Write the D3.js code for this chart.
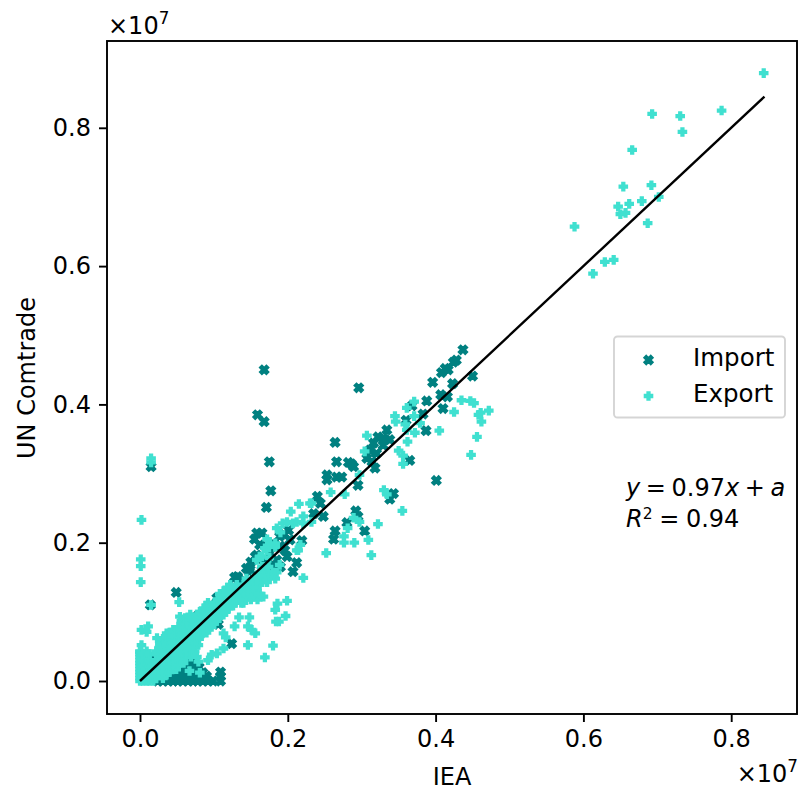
<!DOCTYPE html>
<html><head><meta charset="utf-8">
<script src="https://cdnjs.cloudflare.com/ajax/libs/d3/7.8.5/d3.min.js"></script>
<style>html,body{margin:0;padding:0;background:#fff}svg{display:block}text{font-family:"DejaVu Sans";fill:#000}</style>
</head><body><svg id="c" width="799" height="790"></svg>
<script>
// values in units of 1e7
const importOutliers = [[.168,.450],[.296,.424],[.159,.385],[.168,.375],[.437,.479],[.428,.464],[.424,.461],[.413,.452],[.408,.446],[.417,.450],[.396,.432],[.423,.430],[.450,.441],[.407,.414],[.416,.411],[.410,.394],[.388,.405],[.368,.398],[.383,.386],[.360,.377],[.387,.362],[.401,.290],[.365,.319],[.264,.345],[.175,.317],[.266,.317],[.286,.314],[.282,.316],[.289,.310],[.253,.298],[.253,.291],[.266,.295],[.273,.295],[.177,.275],[.171,.251]];
const importCluster = [[.329,.351],[.334,.363],[.322,.353],[.338,.349],[.316,.344],[.329,.341],[.311,.334],[.320,.329],[.307,.322],[.314,.317],[.318,.308],[.295,.283],[.343,.271],[.338,.263],[.240,.267],[.244,.257],[.235,.242],[.248,.238],[.292,.246],[.295,.238],[.280,.229],[.304,.217],[.264,.217],[.262,.205],[.165,.214],[.158,.214],[.162,.197],[.219,.203],[.201,.218],[.189,.209],[.203,.204],[.180,.199],[.196,.189],[.199,.180],[.212,.171],[.207,.158],[.176,.185],[.156,.180],[.149,.161],[.132,.151],[.167,.175],[.176,.161],[.133,.148],[.144,.163],[.158,.182],[.104,.120],[.077,.093],[.106,.082],[.124,.054],[.059,.088],[.014,.035],[.014,.110],[.049,.128],[.015,.310],[.137,.142],[.150,.172],[.165,.160],[.185,.175],[.190,.195],[.172,.172],[.180,.168],[.190,.165],[.170,.195],[.155,.205],[.195,.212],[.128,.150],[.148,.158]];
const importBase = [[.109,.013],[.109,.000],[.109,.007],[.099,0],[.092,0],[.085,0],[.078,0],[.072,0],[.065,0],[.058,0],[.051,0],[.045,0],[.038,0],[.031,0],[.024,0],[.059,.019],[.070,.028],[.077,.013],[.068,.004],[.056,.009],[.063,.026],[.075,.022],[.083,.006],[.052,.015],[.061,.006],[.046,.008],[.070,.020],[.080,.020],[.073,.033],[.066,.035],[.085,.012],[.075,.006],[.054,.004],[.090,.007]];
const exportTop = [[.844,.879],[.787,.825],[.693,.820],[.731,.817],[.734,.794],[.666,.768],[.654,.715],[.692,.717],[.702,.700],[.679,.694],[.662,.690],[.647,.686],[.657,.677],[.650,.675],[.687,.662],[.588,.657],[.641,.609],[.629,.606],[.613,.589]];
const exportUpper = [[.435,.406],[.447,.405],[.452,.402],[.472,.391],[.461,.388],[.458,.385],[.462,.375],[.425,.389],[.456,.353],[.448,.327],[.405,.362],[.371,.404],[.361,.395],[.371,.383],[.345,.383],[.346,.375],[.359,.371],[.379,.373],[.372,.359],[.361,.363],[.362,.346],[.307,.355],[.304,.332],[.350,.333],[.356,.326],[.356,.314],[.297,.298],[.258,.273],[.277,.270],[.330,.276],[.334,.270],[.355,.246],[.215,.256],[.204,.245],[.232,.257],[.322,.227],[.289,.236],[.297,.230],[.281,.221],[.276,.209],[.276,.200],[.290,.200],[.309,.204],[.252,.185],[.313,.182],[.221,.149],[.221,.238],[.212,.230],[.185,.221],[.232,.230],[.169,.192],[.165,.180],[.183,.194],[.214,.189],[.189,.168],[.180,.153],[.167,.165]];
const exportColumn = [[.015,.322],[.015,.316],[.015,.110],[.002,.233],[.001,.176],[.001,.166],[.001,.143],[.053,.114]];
const exportScatter = [[.199,.116],[.186,.112],[.183,.103],[.197,.094],[.184,.086],[.188,.086],[.148,.092],[.134,.092],[.128,.079],[.146,.079],[.151,.074],[.156,.069],[.146,.052],[.180,.051],[.169,.034],[.113,.069],[.116,.063],[.113,.047],[.104,.040],[.097,.038],[.092,.030],[.077,.035],[.079,.028],[.081,.012],[.054,.093],[.011,.079],[.002,.074],[.009,.071],[.036,.069],[.023,.062],[.027,.054],[.002,.052],[.000,.042],[.067,.0145],[.162,.180],[.171,.189],[.183,.199],[.212,.189],[.217,.197],[.207,.228],[.230,.257],[.221,.228],[.199,.230]];
const exportWedge = [
[0,0],[.004,0],[.009,0],[.013,0],[.018,0],
[0,.004],[0,.009],[.009,.009],[.018,.009],[.027,.009],[.036,.009],
[0,.013],[0,.017],[.009,.017],[.018,.017],[.027,.017],[.036,.017],[.045,.017],[.049,.017],
[0,.022],[0,.026],[.009,.026],[.018,.026],[.027,.026],[.036,.026],[.045,.026],[.054,.026],[.059,.026],
[0,.030],[0,.035],[.009,.035],[.027,.035],[.036,.035],[.045,.035],[.054,.035],[.063,.035],[.069,.035],
[0,.039],[0,.043],[.009,.043],[.022,.043],[.031,.043],[.040,.043],[.049,.043],[.058,.043],[.067,.043],[.074,.043],
[.027,.052],[.036,.052],[.045,.052],[.054,.052],[.063,.052],[.072,.052],[.079,.052],
[.031,.061],[.040,.061],[.049,.061],[.058,.061],[.067,.061],[.076,.061],[.080,.061],
[.040,.070],[.049,.070],[.058,.070],[.067,.070],[.076,.070],[.085,.070],[.090,.070],
[.052,.078],[.061,.078],[.070,.078],[.079,.078],[.088,.078],[.097,.078],
[.056,.087],[.065,.087],[.074,.087],[.083,.087],[.092,.087],[.101,.087],[.104,.087],
[.068,.096],[.077,.096],[.086,.096],[.095,.096],[.104,.096],[.113,.096],
[.086,.105],[.095,.105],[.104,.105],[.113,.105],[.120,.105],
[.092,.113],[.101,.113],[.110,.113],[.119,.113],[.128,.113],[.137,.113],[.140,.113],
[.109,.122],[.118,.122],[.127,.122],[.136,.122],[.145,.122],[.154,.122],[.163,.122],[.167,.122],
[.113,.130],[.122,.130],[.131,.130],[.140,.130],[.149,.130],[.158,.130],
[.122,.139],[.131,.139],[.140,.139],[.149,.139],[.158,.139],[.162,.139],
[.144,.148],[.153,.148],[.162,.148],[.171,.148],[.183,.148],
[.162,.157],[.171,.157],[.180,.157],[.185,.157],
[.165,.165],[.174,.165],[.158,.175],[.175,.178],[.172,.205],[.190,.215],[.193,.228],[.176,.198]];
const exportWedgeFill = [
[.004,.004],[.013,.004],[.022,.004],[.031,.004],
[.004,.013],[.013,.013],[.022,.013],[.031,.013],[.040,.013],
[.004,.022],[.013,.022],[.022,.022],[.031,.022],[.040,.022],[.049,.022],
[.004,.030],[.013,.030],[.022,.030],[.031,.030],[.040,.030],[.049,.030],[.058,.030],
[.004,.039],[.013,.039],[.022,.039],[.031,.039],[.040,.039],[.049,.039],[.058,.039],[.067,.039],
[.026,.048],[.035,.048],[.044,.048],[.053,.048],[.062,.048],[.071,.048],
[.036,.056],[.045,.056],[.054,.056],[.063,.056],[.072,.056],
[.036,.065],[.045,.065],[.054,.065],[.063,.065],[.072,.065],[.081,.065],
[.045,.074],[.054,.074],[.063,.074],[.072,.074],[.081,.074],[.090,.074],
[.056,.083],[.065,.083],[.074,.083],[.083,.083],[.092,.083],[.100,.083],
[.061,.091],[.070,.091],[.079,.091],[.088,.091],[.097,.091],[.106,.091],
[.081,.100],[.090,.100],[.099,.100],[.108,.100],[.116,.100],
[.090,.109],[.099,.109],[.108,.109],[.117,.109],[.126,.109],
[.105,.118],[.114,.118],[.123,.118],[.132,.118],[.141,.118],[.150,.118],[.159,.118],
[.108,.126],[.117,.126],[.126,.126],[.135,.126],[.144,.126],[.153,.126],[.162,.126],
[.118,.135],[.127,.135],[.136,.135],[.145,.135],[.154,.135],
[.145,.143],[.154,.143],[.163,.143],[.172,.143],
[.158,.152],[.167,.152],[.176,.152]];
const fitX = [0, .845];
const fitY = [0, .845];
const xTicks = [0, .2, .4, .6, .8];
const yTicks = [0, .2, .4, .6, .8];
const importColor = "#008080", exportColor = "#40E0D0";
const legendItems = ["Import", "Export"];

const W=799,H=790,L=107,R=797,T=41,B=714,FS="24px";
const xScale=d3.scaleLinear().domain([(L-140)/739,(R-140)/739]).range([L,R]);
const yScale=d3.scaleLinear().domain([(681-B)/691.5,(681-T)/691.5]).range([B,T]);
const svg=d3.select("#c");

const plusPts=[[1,0],[2,0],[2,1],[3,1],[3,2],[2,2],[2,3],[1,3],[1,2],[0,2],[0,1],[1,1]].map(p=>[p[0]/3-.5,p[1]/3-.5]);
const xPts=[[1,0],[2,1],[3,0],[4,1],[3,2],[4,3],[3,4],[2,3],[1,4],[0,3],[1,2],[0,1]].map(p=>[p[0]/4-.5,p[1]/4-.5]);
const shape=pts=>({draw(ctx,size){const s=Math.sqrt(size);pts.forEach((p,i)=>i?ctx.lineTo(p[0]*s,p[1]*s):ctx.moveTo(p[0]*s,p[1]*s));ctx.closePath();}});
const xPath=d3.symbol().type(shape(xPts)).size(81)();
const plusPath=d3.symbol().type(shape(plusPts)).size(64)();

svg.append("clipPath").attr("id","plot").append("rect").attr("x",L).attr("y",T).attr("width",R-L).attr("height",B-T);
const plot=svg.append("g").attr("clip-path","url(#plot)");
const importData=[...importOutliers,...importCluster,...importBase];
const exportData=[...exportTop,...exportUpper,...exportColumn,...exportScatter,...exportWedge,...exportWedgeFill];
plot.append("g").selectAll("path").data(importData).join("path").attr("d",xPath)
 .attr("transform",d=>`translate(${xScale(d[0])},${yScale(d[1])})`)
 .attr("fill",importColor).attr("stroke",importColor).attr("stroke-width",1.6);
plot.append("g").selectAll("path").data(exportData).join("path").attr("d",plusPath)
 .attr("transform",d=>`translate(${xScale(d[0])},${yScale(d[1])})`)
 .attr("fill",exportColor).attr("stroke",exportColor).attr("stroke-width",1.6);
plot.append("path").datum(fitX.map((x,i)=>[x,fitY[i]]))
 .attr("d",d3.line().x(d=>xScale(d[0])).y(d=>yScale(d[1])))
 .attr("stroke","#000").attr("stroke-width",2.4).attr("fill","none");

const ax=svg.append("g").attr("transform",`translate(0,${B})`).call(d3.axisBottom(xScale).tickValues(xTicks).tickFormat(d3.format(".1f")).tickSize(8).tickPadding(8));
const ay=svg.append("g").attr("transform",`translate(${L},0)`).call(d3.axisLeft(yScale).tickValues(yTicks).tickFormat(d3.format(".1f")).tickSize(8).tickPadding(8));
[ax,ay].forEach(a=>{a.select(".domain").remove();a.selectAll("line").attr("stroke","#000").attr("stroke-width",1.9);a.selectAll("text").style("font-family","DejaVu Sans").style("font-size",FS).attr("fill","#000");});
svg.append("rect").attr("x",L).attr("y",T).attr("width",R-L).attr("height",B-T).attr("fill","none").attr("stroke","#000").attr("stroke-width",1.9);

svg.append("text").attr("x",452).attr("y",785).attr("text-anchor","middle").style("font-size",FS).text("IEA");
svg.append("text").attr("transform","translate(35,378) rotate(-90)").attr("text-anchor","middle").style("font-size",FS).text("UN Comtrade");
function offset(x,y,anchor){
 const t=svg.append("text").attr("x",x).attr("y",y).attr("text-anchor",anchor).style("font-size",FS);
 t.append("tspan").text("×10");
 t.append("tspan").attr("dy",-10).style("font-size","16.8px").text("7");
}
offset(108,34,"start");
offset(798,782,"end");

const lg=svg.append("g");
lg.append("rect").attr("x",614).attr("y",336.5).attr("width",171).attr("height",81).attr("rx",3.5).attr("fill","#fff").attr("fill-opacity",.8).attr("stroke","#d5d5d5").attr("stroke-width",1.9);
lg.append("path").attr("d",xPath).attr("transform","translate(648.5,360)").attr("fill",importColor).attr("stroke",importColor).attr("stroke-width",1.6);
lg.append("path").attr("d",plusPath).attr("transform","translate(648.5,396)").attr("fill",exportColor).attr("stroke",exportColor).attr("stroke-width",1.6);
legendItems.forEach((s,i)=>lg.append("text").attr("x",693).attr("y",366+i*36).style("font-size","24.5px").text(s));

function eq(y,parts,ws){
 const t=svg.append("text").attr("x",626).attr("y",y).style("font-size",FS).style("word-spacing",ws);
 parts.forEach(p=>{const s=t.append("tspan").text(p.t);if(p.i)s.style("font-style","oblique");if(p.d)s.attr("dy",p.d);if(p.f)s.style("font-size",p.f);});
}
eq(496,[{t:"y",i:1},{t:" = 0.97"},{t:"x",i:1},{t:" + "},{t:"a",i:1}],"-2px");
eq(527,[{t:"R",i:1},{t:"2",d:-8,f:"15.5px"},{t:" = 0.94",d:8}],"-1px");
</script></body></html>
